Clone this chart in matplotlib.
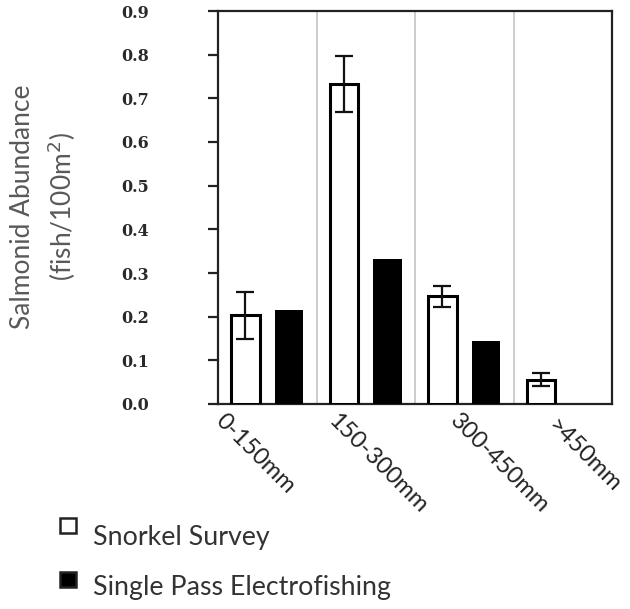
import matplotlib
matplotlib.use("Agg")
import matplotlib.pyplot as plt
from matplotlib.patches import Rectangle
from matplotlib.transforms import ScaledTranslation
import numpy as np

categories = ["0-150mm", "150-300mm", "300-450mm", ">450mm"]
series_names = ["Snorkel Survey", "Single Pass Electrofishing"]
snorkel = [0.203, 0.733, 0.247, 0.056]
snorkel_err = [0.054, 0.065, 0.024, 0.015]
electro = [0.215, 0.332, 0.145, 0.0]
yticks = [0.0, 0.1, 0.2, 0.3, 0.4, 0.5, 0.6, 0.7, 0.8, 0.9]

W, H, DPI = 630, 609, 100
fig = plt.figure(figsize=(W / DPI, H / DPI), dpi=DPI)
ax = fig.add_axes([218 / W, 1 - 404 / H, (612 - 218) / W, (404 - 11) / H])

x = np.arange(len(categories))
bw = 0.29
off = 0.223
ax.bar(x - off, snorkel, width=bw, facecolor="white", edgecolor="black",
       linewidth=2.2, zorder=3)
ax.errorbar(x - off, snorkel, yerr=snorkel_err, fmt="none", ecolor="#111111",
            elinewidth=1.6, capsize=6.3, capthick=1.6, zorder=4)
ax.bar(x + off, electro, width=bw, facecolor="black", edgecolor="black",
       linewidth=0, zorder=3)

ax.set_xlim(-0.5, len(categories) - 0.5)
ax.set_ylim(0, 0.9)
for b in np.arange(0.5, len(categories) - 0.5, 1.0):
    ax.axvline(b, color="#c4c4c4", linewidth=1.2, zorder=1)

for s in ax.spines.values():
    s.set_linewidth(1.6)
    s.set_color("#222222")

ax.set_yticks(yticks)
ax.set_yticklabels([f"{v:.1f}" for v in yticks], family="DejaVu Serif",
                   fontsize=11.5, fontweight="bold", color="#2a2a2a")
ax.tick_params(axis="y", direction="out", length=7.5, width=1.6,
               color="#222222", pad=42)

ax.set_xticks(x)
ax.set_xticklabels(categories, rotation=-45, ha="left", va="top",
                   rotation_mode="anchor", family="Lato", fontsize=17,
                   color="#222222")
ax.tick_params(axis="x", length=0, pad=4)
label_dx = [-41, -27, -3, -4]
label_dy = [0, 0, 0, -5]
for lab, dx, dy in zip(ax.get_xticklabels(), label_dx, label_dy):
    lab.set_transform(lab.get_transform() +
                      ScaledTranslation(dx / DPI, dy / DPI, fig.dpi_scale_trans))

fig.text(23 / W, 1 - 207 / H, "Salmonid Abundance", rotation=90,
         ha="center", va="center", family="Lato", fontsize=19, color="#595959")
fig.text(62 / W, 1 - 207 / H, "(fish/100m$^2$)", rotation=90,
         ha="center", va="center", family="Lato", fontsize=19, color="#595959")

# legend (manual)
base_y = [545, 595]
sq_top = [518, 572]
faces = ["white", "black"]
for name, by, st, fc in zip(series_names, base_y, sq_top, faces):
    fig.patches.append(Rectangle((60 / W, 1 - (st + 15) / H), 16 / W, 15 / H,
                                 transform=fig.transFigure, facecolor=fc,
                                 edgecolor="#222222", linewidth=1.8))
    fig.text(93 / W, 1 - by / H, name, ha="left", va="baseline", family="Lato",
             fontsize=19.3, color="#333333")

fig.savefig("out.png", dpi=DPI)
